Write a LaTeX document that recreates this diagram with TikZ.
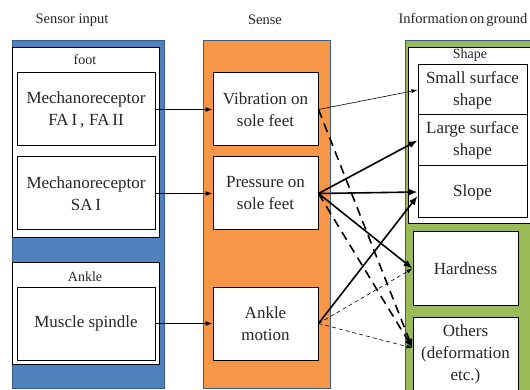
\documentclass[tikz,border=0pt]{standalone}
\usepackage{fontspec}
\setmainfont{Liberation Serif}
\usetikzlibrary{arrows.meta, positioning}
\definecolor{csinput}{HTML}{4F81BD}
\definecolor{cssense}{HTML}{F79646}
\definecolor{csground}{HTML}{9BBB59}
\definecolor{csedge}{HTML}{385D8A}
\definecolor{cstext}{HTML}{262626}

\begin{document}
\begin{tikzpicture}[x=1pt, y=-1pt,
  panel/.style={draw=csedge, line width=0.6pt},
  group/.style={draw=black, fill=white, line width=0.8pt},
  box/.style={draw=black, fill=white, line width=1pt, align=center, text=cstext,
    font=\fontsize{17}{22}\selectfont, inner sep=0pt},
  head/.style={font=\fontsize{14.5}{16}\selectfont, text=cstext},
  tag/.style={font=\fontsize{14}{16}\selectfont, text=cstext},
  feed/.style={-{Latex[length=7pt,width=5pt]}, line width=1.1pt},
  weak/.style={-{Latex[length=6pt,width=4pt]}, line width=0.6pt},
  strong/.style={-{Latex[length=9pt,width=7pt]}, line width=1.6pt},
  strongdash/.style={strong, dash pattern=on 9pt off 6pt},
  weakdash/.style={weak, dash pattern=on 4pt off 3pt}]
\useasboundingbox (0,0) rectangle (530,390);
% Column headings
\node[head] (hinput) at (72,20) {Sensor input};
\node[head] (hsense) at (265,20) {Sense};
\node[head] (hground) at (463,20) {Information\hspace{2pt}on\hspace{2pt}ground};
% Column panels
\fill[csinput] (12,40) rectangle (164,388);
\draw[panel] (12,40) rectangle (164,388);
\fill[cssense] (203,40) rectangle (330,388);
\draw[panel] (203,40) rectangle (330,388);
\fill[csground] (405,40) rectangle (536,396);
\draw[panel] (405,40) rectangle (536,396);
% Groups
\draw[group] (12,47) rectangle (159,237);
\draw[group] (12,262) rectangle (159,364);
\draw[group] (408,47) rectangle (533,223);
\node[tag] (tfoot) at (85,60) {foot};
\node[tag] (tankle) at (85,277) {Ankle};
\node[tag] (tshape) at (470,55) {Shape};
% Sensor input
\node[box, minimum width=138, minimum height=73] (fa) at (86,109.5)
  {Mechanoreceptor\\FA\,I\,,\;FA\,II};
\node[box, minimum width=138, minimum height=73] (sa) at (86,193.5)
  {Mechanoreceptor\\SA\,I};
\node[box, minimum width=138, minimum height=73] (spindle) at (86,323.5)
  {Muscle spindle};
% Sense
\node[box, minimum width=105, minimum height=73] (vib) at (265.5,109.5)
  {Vibration on\\sole feet};
\node[box, minimum width=105, minimum height=73] (pres) at (265.5,193.5)
  {Pressure on\\sole feet};
\node[box, minimum width=105, minimum height=73] (ankm) at (265.5,323.5)
  {Ankle\\motion};
% Information on ground
\node[box, minimum width=109, minimum height=50] (small) at (472.5,90)
  {Small surface\\shape};
\node[box, minimum width=109, minimum height=51] (large) at (472.5,140.5)
  {Large surface\\shape};
\node[box, minimum width=109, minimum height=52] (slope) at (472.5,192)
  {Slope};
\node[box, minimum width=105, minimum height=73] (hard) at (465.5,268.5)
  {Hardness};
\node[box, minimum width=105, minimum height=74] (others) at (465.5,354)
  {Others\\(deformation\\etc.)};
% Sensor to sense
\draw[feed] (fa) -- (vib);
\draw[feed] (sa) -- (pres);
\draw[feed] (spindle) -- (ankm);
% Sense to ground
\draw[weak] (vib.east) -- (small.west);
\draw[strongdash] (vib.east) -- ([yshift=6pt]others.west);
\draw[strongdash] (pres.east) -- ([yshift=6pt]others.west);
\draw[strong] (pres.east) -- (large.west);
\draw[strong] (pres.east) -- (slope.west);
\draw[strong] (pres.east) -- (hard.west);
\draw[strong] (ankm.east) -- ([yshift=-4pt]slope.west);
\draw[weakdash] (ankm.east) -- (hard.west);
\draw[weakdash] (ankm.east) -- ([yshift=6pt]others.west);
\end{tikzpicture}
\end{document}
